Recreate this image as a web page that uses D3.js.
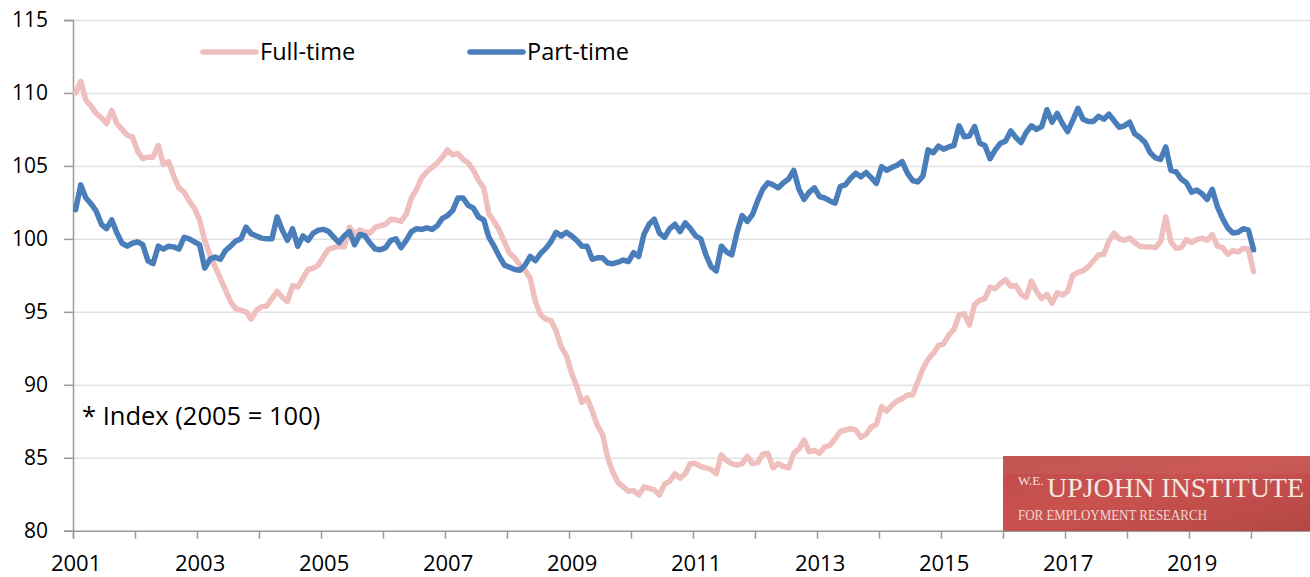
<!DOCTYPE html>
<html>
<head>
<meta charset="utf-8">
<script src="https://cdn.jsdelivr.net/npm/d3@7"></script>
<style>
  body { margin: 0; background: #fff; }
  svg { display: block; font-family: "Open Sans", sans-serif; }
  .grid line { stroke: #e3e3e3; stroke-width: 1.5px; }
  .grid path { display: none; }
  .axis path, .axis line { stroke: #9a9a9a; stroke-width: 1.5px; }
  .axis text { fill: #000; font-size: 21px; font-family: "Open Sans", sans-serif; }
  .axis.years text { font-size: 22px; }
</style>
</head>
<body>
<svg id="chart" width="1310" height="577"></svg>
<script>
// monthly index values, jan 2001 .. jan 2020 (2005 = 100)
var fullTime = [
  110.0, 110.8, 109.5, 109.1, 108.6, 108.3, 107.9, 108.8, 107.9, 107.5, 107.1, 107.0,
  106.0, 105.5, 105.6, 105.6, 106.4, 105.1, 105.3, 104.3, 103.5, 103.2, 102.6, 102.1,
  101.3, 99.9, 98.9, 98.1, 97.3, 96.5, 95.7, 95.2, 95.1, 95.0, 94.5, 95.1,
  95.35, 95.4, 95.9, 96.4, 96.0, 95.7, 96.8, 96.7, 97.3, 97.9, 98.0, 98.2,
  98.8, 99.3, 99.4, 99.5, 99.45, 100.8, 100.3, 100.6, 100.45, 100.4, 100.8, 100.9,
  101.0, 101.35, 101.3, 101.2, 101.7, 102.8, 103.4, 104.2, 104.6, 104.9, 105.2, 105.6,
  106.1, 105.75, 105.85, 105.45, 105.2, 104.7, 104.0, 103.5, 101.7, 101.2, 100.6, 99.8,
  99.0, 98.7, 98.2, 97.85, 97.3, 95.7, 94.8, 94.5, 94.4, 93.7, 92.6, 92.0,
  90.8, 89.9, 88.8, 89.1, 88.2, 87.2, 86.6, 85.0, 84.0, 83.3, 83.0, 82.7,
  82.75, 82.45, 83.0, 82.9, 82.8, 82.45, 83.2, 83.4, 83.9, 83.6, 83.9, 84.6,
  84.6, 84.4, 84.3, 84.2, 83.9, 85.2, 84.8, 84.6, 84.5, 84.6, 85.1, 84.6,
  84.65, 85.25, 85.3, 84.3, 84.6, 84.4, 84.3, 85.3, 85.6, 86.2, 85.4, 85.5,
  85.3, 85.75, 85.85, 86.3, 86.8, 86.9, 87.0, 86.9, 86.4, 86.6, 87.1, 87.3,
  88.5, 88.2, 88.6, 88.9, 89.05, 89.3, 89.3, 90.2, 91.1, 91.75, 92.15, 92.7,
  92.8, 93.4, 93.8, 94.8, 94.85, 94.1, 95.5, 95.8, 95.9, 96.7, 96.6, 96.95,
  97.2, 96.75, 96.8, 96.2, 96.0, 97.1, 96.4, 95.9, 96.2, 95.6, 96.3, 96.15,
  96.4, 97.5, 97.7, 97.8, 98.1, 98.5, 98.9, 98.95, 99.85, 100.4, 100.0, 99.9,
  100.05, 99.75, 99.5, 99.45, 99.45, 99.4, 99.8, 101.5, 99.8, 99.35, 99.4, 99.95,
  99.75, 99.95, 100.05, 99.9, 100.3, 99.5, 99.4, 98.95, 99.2, 99.1, 99.35, 99.3,
  97.75
];

var partTime = [
  102.0, 103.7, 102.8, 102.4, 101.9, 101.0, 100.7, 101.3, 100.4, 99.7, 99.5, 99.7,
  99.8, 99.6, 98.5, 98.3, 99.5, 99.3, 99.5, 99.45, 99.3, 100.1, 100.0, 99.8,
  99.6, 98.0, 98.6, 98.75, 98.6, 99.2, 99.5, 99.85, 100.0, 100.8, 100.35, 100.2,
  100.05, 100.0, 100.0, 101.5, 100.6, 99.9, 100.7, 99.5, 100.2, 99.9, 100.4, 100.6,
  100.65, 100.5, 100.1, 99.75, 100.2, 100.5, 99.6, 100.3, 100.2, 99.7, 99.3, 99.25,
  99.4, 99.9, 100.0, 99.4, 99.9, 100.5, 100.7, 100.65, 100.75, 100.65, 100.9, 101.4,
  101.6, 101.95, 102.8, 102.8, 102.3, 102.1, 101.5, 101.3, 100.1, 99.5, 98.8, 98.2,
  98.05, 97.9, 97.85, 98.2, 98.8, 98.5, 99.0, 99.35, 99.8, 100.45, 100.2, 100.45,
  100.2, 99.9, 99.5, 99.5, 98.6, 98.7, 98.7, 98.35, 98.3, 98.4, 98.55, 98.45,
  99.05, 98.8, 100.3, 101.0, 101.35, 100.4, 100.1, 100.7, 101.0, 100.5, 101.1, 100.7,
  100.2, 100.0, 98.9, 98.1, 97.8, 99.5, 99.1, 98.9, 100.4, 101.6, 101.2, 101.65,
  102.6, 103.4, 103.85, 103.7, 103.5, 103.85, 104.1, 104.7, 103.4, 102.7, 103.2, 103.5,
  102.9, 102.8, 102.6, 102.45, 103.6, 103.7, 104.15, 104.5, 104.25, 104.55, 104.2, 103.8,
  104.95, 104.7, 104.9, 105.05, 105.3, 104.5, 104.0, 103.9, 104.3, 106.1, 105.9, 106.35,
  106.15, 106.3, 106.4, 107.75, 107.0, 107.05, 107.7, 106.55, 106.4, 105.5, 106.1, 106.55,
  106.7, 107.4, 106.95, 106.6, 107.3, 107.75, 107.5, 107.7, 108.85, 108.0, 108.6, 107.9,
  107.35, 108.1, 108.95, 108.2, 108.05, 108.05, 108.4, 108.2, 108.55, 108.1, 107.65, 107.75,
  108.0, 107.2, 106.95, 106.6, 105.9, 105.55, 105.45, 106.3, 104.7, 104.6, 104.1, 103.85,
  103.2, 103.35, 103.1, 102.7, 103.4, 102.2, 101.4, 100.75, 100.4, 100.45, 100.7, 100.6,
  99.25
];

var yearLabels = ["2001", "2003", "2005", "2007", "2009", "2011", "2013", "2015", "2017", "2019"];
var yTicks = [80, 85, 90, 95, 100, 105, 110, 115];
var seriesNames = ["Full-time", "Part-time"];
var seriesColors = ["#eebfbd", "#4a7ebb"];

// plot area (pixels)
var plotLeft = 73, plotRight = 1313, plotTop = 20, plotBottom = 530.7;

var svg = d3.select("svg#chart");

// 240 monthly categories from jan 2001 to dec 2020, points sit mid-category
var x = d3.scaleLinear().domain([0, 240]).range([plotLeft, plotRight]),
    y = d3.scaleLinear().domain([80, 115]).range([plotBottom, plotTop]);

// horizontal gridlines
svg.append("g")
    .attr("class", "grid")
    .attr("transform", "translate(" + plotLeft + ",0)")
    .call(d3.axisLeft(y)
        .tickValues(yTicks.filter(function(d) { return d > 80; }))
        .tickSize(-(plotRight - plotLeft))
        .tickFormat(""));

// y axis
svg.append("g")
    .attr("class", "axis")
    .attr("transform", "translate(" + plotLeft + ",0)")
    .call(d3.axisLeft(y).tickValues(yTicks).tickSize(9).tickPadding(16));

// x axis: a tick every year, labels every other year
svg.append("g")
    .attr("class", "axis")
    .attr("transform", "translate(0," + plotBottom + ")")
    .call(d3.axisBottom(x).tickValues(d3.range(0, 241, 12)).tickSize(8).tickFormat(""));

svg.append("g")
    .attr("class", "axis years")
    .attr("transform", "translate(0," + plotBottom + ")")
    .call(d3.axisBottom(x)
        .tickValues(yearLabels.map(function(d, i) { return i * 24 + 0.5; }))
        .tickSize(0)
        .tickPadding(25)
        .tickFormat(function(d, i) { return yearLabels[i]; }))
  .select(".domain").remove();

// logo box in the lower right corner
var grad = svg.append("defs").append("linearGradient")
    .attr("id", "logoGrad")
    .attr("x1", "0").attr("y1", "0").attr("x2", "1").attr("y2", "1");
grad.append("stop").attr("offset", "0%").attr("stop-color", "#bf4b49");
grad.append("stop").attr("offset", "45%").attr("stop-color", "#c9524f");
grad.append("stop").attr("offset", "100%").attr("stop-color", "#b44745");

var logo = svg.append("g").style("font-family", "'Liberation Serif', 'DejaVu Serif', serif");
logo.append("rect")
    .attr("x", 1003).attr("y", 456)
    .attr("width", 307).attr("height", 75)
    .attr("fill", "url(#logoGrad)");
logo.append("rect")
    .attr("x", 1003).attr("y", 456)
    .attr("width", 307).attr("height", 18)
    .attr("fill", "#ffffff").attr("opacity", 0.05);
logo.append("text")
    .attr("x", 1018).attr("y", 485)
    .attr("fill", "#f4e2dc")
    .style("font-size", "13px")
    .text("W.E.");
logo.append("text")
    .attr("x", 1047).attr("y", 497)
    .attr("fill", "#f6e8e2")
    .attr("textLength", 257)
    .attr("lengthAdjust", "spacingAndGlyphs")
    .style("font-size", "27.5px")
    .text("UPJOHN INSTITUTE");
logo.append("text")
    .attr("x", 1018).attr("y", 520)
    .attr("fill", "#f0d8d2")
    .attr("textLength", 189)
    .attr("lengthAdjust", "spacingAndGlyphs")
    .style("font-size", "14px")
    .text("FOR EMPLOYMENT RESEARCH");

// the two series
var line = d3.line()
    .x(function(d, i) { return x(i + 0.5); })
    .y(function(d) { return y(d); });

[fullTime, partTime].forEach(function(series, k) {
  svg.append("path")
      .datum(series)
      .attr("fill", "none")
      .attr("stroke", seriesColors[k])
      .attr("stroke-width", 5.5)
      .attr("stroke-linejoin", "round")
      .attr("stroke-linecap", "round")
      .attr("d", line);
});

// legend
var legendX = [203, 470];
seriesNames.forEach(function(name, k) {
  svg.append("line")
      .attr("x1", legendX[k]).attr("x2", legendX[k] + 53)
      .attr("y1", 52).attr("y2", 52)
      .attr("stroke", seriesColors[k])
      .attr("stroke-width", 5.5)
      .attr("stroke-linecap", "round");
  svg.append("text")
      .attr("x", legendX[k] + 57).attr("y", 52)
      .attr("dy", "0.35em")
      .style("font-size", "23.5px")
      .text(name);
});

// note
svg.append("text")
    .attr("x", 82).attr("y", 425)
    .style("font-size", "25.5px")
    .text("* Index (2005 = 100)");
</script>
</body>
</html>
